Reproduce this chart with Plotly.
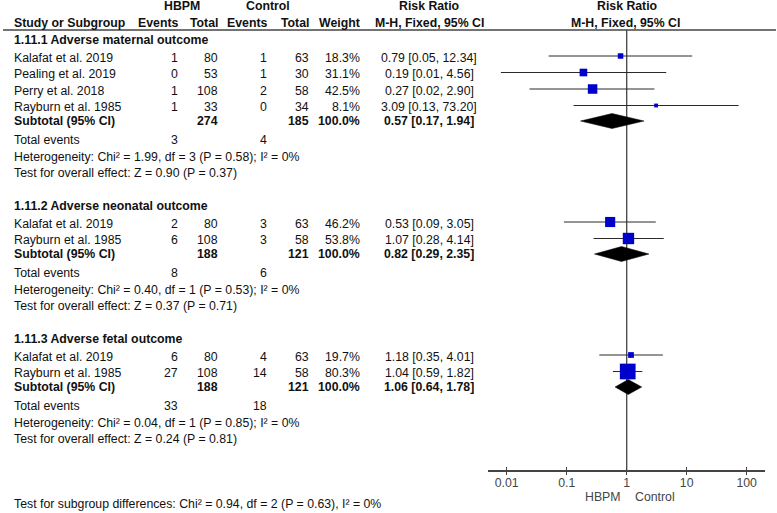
import plotly.graph_objects as go

# ---- data ----
groups = ["1.11.1 Adverse maternal outcome",
          "1.11.2 Adverse neonatal outcome",
          "1.11.3 Adverse fetal outcome"]
study_names = [["Kalafat et al. 2019", "Pealing et al. 2019", "Perry et al. 2018", "Rayburn et al. 1985"],
               ["Kalafat et al. 2019", "Rayburn et al. 1985"],
               ["Kalafat et al. 2019", "Rayburn et al. 1985"]]
hbpm_events = [[1, 0, 1, 1], [2, 6], [6, 27]]
hbpm_total = [[80, 53, 108, 33], [80, 108], [80, 108]]
ctrl_events = [[1, 1, 2, 0], [3, 3], [4, 14]]
ctrl_total = [[63, 30, 58, 34], [63, 58], [63, 58]]
weights = [[18.3, 31.1, 42.5, 8.1], [46.2, 53.8], [19.7, 80.3]]
rr = [[0.79, 0.19, 0.27, 3.09], [0.53, 1.07], [1.18, 1.04]]
rr_lo = [[0.05, 0.008, 0.024, 0.13], [0.09, 0.28], [0.35, 0.59]]
rr_hi = [[12.34, 4.56, 2.90, 73.20], [3.05, 4.14], [4.01, 1.82]]

sub_rr = [0.57, 0.82, 1.06]
sub_lo = [0.17, 0.29, 0.64]
sub_hi = [1.94, 2.35, 1.78]

het_chi2 = [1.99, 0.40, 0.04]
het_df = [3, 1, 1]
het_p = [0.58, 0.53, 0.85]
het_i2 = [0, 0, 0]
z_val = [0.90, 0.37, 0.24]
z_p = [0.37, 0.71, 0.81]

diff_chi2, diff_df, diff_p, diff_i2 = 0.94, 2, 0.63, 0

tick_vals = [0.01, 0.1, 1, 10, 100]
tick_text = ["0.01", "0.1", "1", "10", "100"]

# ---- layout (pixels) ----
W, H = 777, 513
AXIS_Y = 470.7
HEAD_LINE_Y = 30
X1_PX = 626.7          # position of RR = 1
PX_PER_DECADE = 60
AX_L, AX_R = 488, 765

TXT = "#111111"
FONT = "Liberation Sans, Arial, sans-serif"
FS = 12.3

annots = []


def text(x, y, s, anchor="left", bold=False, color=TXT, size=FS):
    if bold:
        s = f"<b>{s}</b>"
    annots.append(dict(x=x / W, y=y, xref="paper", yref="y", text=s,
                       showarrow=False, xanchor=anchor, yanchor="middle",
                       font=dict(family=FONT, size=size, color=color)))


# column headers
text(182, 6, "HBPM", "center", True)
text(268, 6, "Control", "center", True)
text(429, 6, "Risk Ratio", "center", True)
text(627, 6, "Risk Ratio", "center", True)
text(12, 22.5, "Study or Subgroup", "left", True)
text(180, 22.5, "Events", "right", True)
text(220, 22.5, "Total", "right", True)
text(269, 22.5, "Events", "right", True)
text(311, 22.5, "Total", "right", True)
text(362, 22.5, "Weight", "right", True)
text(429, 22.5, "M-H, Fixed, 95% CI", "center", True)
text(625, 22.5, "M-H, Fixed, 95% CI", "center", True)

sq_x, sq_y, sq_size = [], [], []
ci_x, ci_y = [], []
dia_x, dia_y = [], []

y = 39.5
for g in range(len(groups)):
    text(12, y, groups[g], "left", True)
    yr = y + 16.5
    for i, name in enumerate(study_names[g]):
        ty = yr + 1.8   # study text sits a little below its marker
        text(12, ty, name)
        text(180, ty, str(hbpm_events[g][i]), "right")
        text(220, ty, str(hbpm_total[g][i]), "right")
        text(269, ty, str(ctrl_events[g][i]), "right")
        text(311, ty, str(ctrl_total[g][i]), "right")
        text(362, ty, f"{weights[g][i]:.1f}%", "right")
        text(429, ty, f"{rr[g][i]:.2f} [{rr_lo[g][i]:.2f}, {rr_hi[g][i]:.2f}]", "center")
        sq_x.append(rr[g][i])
        sq_y.append(yr)
        sq_size.append(2.5 + 0.165 * weights[g][i])
        ci_x += [rr_lo[g][i], rr_hi[g][i], None]
        ci_y += [yr, yr, None]
        yr += 16.5
    ys = yr - 1
    text(12, ys, "Subtotal (95% CI)", "left", True)
    text(220, ys, str(sum(hbpm_total[g])), "right", True)
    text(311, ys, str(sum(ctrl_total[g])), "right", True)
    text(362, ys, f"{sum(weights[g]):.1f}%", "right", True)
    text(429, ys, f"{sub_rr[g]:.2f} [{sub_lo[g]:.2f}, {sub_hi[g]:.2f}]", "center", True)
    dia_x += [sub_lo[g], sub_rr[g], sub_hi[g], sub_rr[g], sub_lo[g], None]
    dia_y += [ys, ys - 7.5, ys, ys + 7.5, ys, None]

    yt = ys + 19
    text(12, yt, "Total events")
    text(180, yt, str(sum(hbpm_events[g])), "right")
    text(269, yt, str(sum(ctrl_events[g])), "right")
    text(12, yt + 16.5, f"Heterogeneity: Chi² = {het_chi2[g]:.2f}, df = {het_df[g]} "
                        f"(P = {het_p[g]:.2f}); I² = {het_i2[g]}%")
    text(12, yt + 33, f"Test for overall effect: Z = {z_val[g]:.2f} (P = {z_p[g]:.2f})")
    y = yt + 33 + 32.5

text(12, 504, f"Test for subgroup differences: Chi² = {diff_chi2:.2f}, df = {diff_df} "
              f"(P = {diff_p:.2f}), I² = {diff_i2}%")

# axis favour labels
annots.append(dict(x=0, y=496.5, xref="x", yref="y", text="HBPM", showarrow=False,
                   xanchor="right", xshift=-4, font=dict(family=FONT, size=FS, color="#444")))
annots.append(dict(x=0, y=496.5, xref="x", yref="y", text="Control", showarrow=False,
                   xanchor="left", xshift=6, font=dict(family=FONT, size=FS, color="#444")))

fig = go.Figure()
# header rule across the whole table (full-page pixel subplot x3/y3)
fig.add_trace(go.Scatter(x=[3, 776], y=[HEAD_LINE_Y, HEAD_LINE_Y], xaxis="x3", yaxis="y3",
                         mode="lines", line=dict(color="#444444", width=1.5), hoverinfo="skip"))
# line of no effect
fig.add_trace(go.Scatter(x=[1, 1], y=[HEAD_LINE_Y, AXIS_Y], mode="lines",
                         line=dict(color="#444444", width=1.3), hoverinfo="skip"))
fig.add_trace(go.Scatter(x=ci_x, y=ci_y, mode="lines",
                         line=dict(color="#2a2a2a", width=1), hoverinfo="skip"))
fig.add_trace(go.Scatter(x=sq_x, y=sq_y, mode="markers",
                         marker=dict(symbol="square", size=sq_size, color="#0000CC",
                                     opacity=1, line=dict(width=0))))
fig.add_trace(go.Scatter(x=dia_x, y=dia_y, mode="lines", fill="toself",
                         fillcolor="black", line=dict(color="black", width=0.5)))
fig.add_trace(go.Scatter(x=[1], y=[AXIS_Y], xaxis="x2", mode="markers",
                         marker=dict(size=1, opacity=0), hoverinfo="skip"))

x_range = [(AX_L - X1_PX) / PX_PER_DECADE, (AX_R - X1_PX) / PX_PER_DECADE]
axis_common = dict(type="log", domain=[AX_L / W, AX_R / W], range=x_range,
                   anchor="free", position=1 - AXIS_Y / H, showgrid=False,
                   zeroline=False, tickvals=tick_vals, ticktext=tick_text,
                   ticklen=4, tickwidth=1.3, tickcolor="#444")

fig.update_layout(
    width=W, height=H,
    margin=dict(l=0, r=0, t=0, b=0),
    paper_bgcolor="white", plot_bgcolor="rgba(0,0,0,0)",
    showlegend=False,
    xaxis=dict(**axis_common, ticks="outside", showline=True, linecolor="#444",
               linewidth=1.5, ticklabelstandoff=-3,
               tickfont=dict(family=FONT, size=FS, color="#444")),
    xaxis2=dict(**axis_common, ticks="inside", overlaying="x", showline=False,
                showticklabels=False),
    yaxis=dict(range=[H, 0], domain=[0, 1], visible=False),
    xaxis3=dict(range=[0, W], domain=[0, 1], anchor="y3", visible=False),
    yaxis3=dict(range=[H, 0], domain=[0, 1], anchor="x3", visible=False),
    annotations=annots,
)

fig.write_html("out.html", config={"displayModeBar": False},
               post_script="document.body.style.margin='0';")
